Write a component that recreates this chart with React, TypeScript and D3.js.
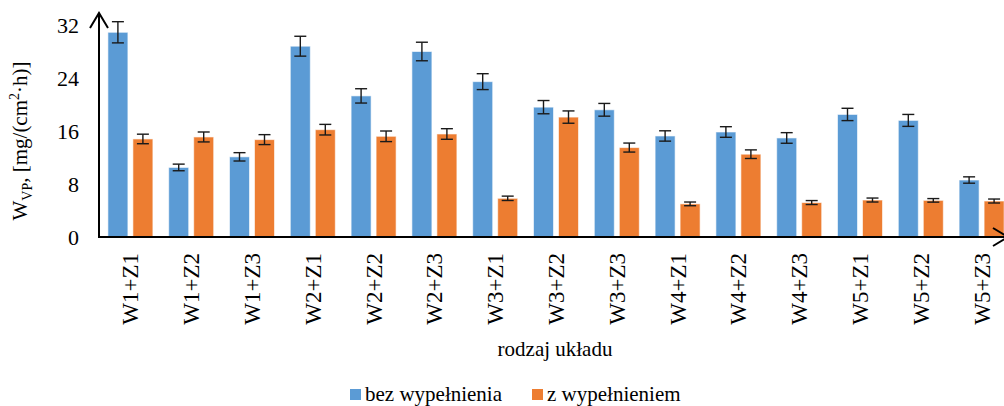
import React, { useEffect, useRef } from 'react';
import * as d3 from 'd3';

const categories = [
  'W1+Z1', 'W1+Z2', 'W1+Z3', 'W2+Z1', 'W2+Z2', 'W2+Z3', 'W3+Z1', 'W3+Z2',
  'W3+Z3', 'W4+Z1', 'W4+Z2', 'W4+Z3', 'W5+Z1', 'W5+Z2', 'W5+Z3',
];
const seriesNames = ['bez wypełnienia', 'z wypełnieniem'];
const bezValues = [30.9, 10.5, 12.1, 28.8, 21.3, 28.0, 23.45, 19.6, 19.2, 15.25, 15.85, 14.95, 18.5, 17.6, 8.6];
const bezErrors = [1.6, 0.5, 0.63, 1.5, 1.08, 1.4, 1.2, 1.0, 0.96, 0.78, 0.8, 0.8, 0.93, 0.9, 0.48];
const zValues = [14.8, 15.1, 14.7, 16.2, 15.2, 15.55, 5.84, 18.1, 13.5, 5.0, 12.5, 5.2, 5.58, 5.53, 5.43];
const zErrors = [0.72, 0.75, 0.75, 0.8, 0.8, 0.8, 0.33, 0.93, 0.68, 0.28, 0.65, 0.3, 0.3, 0.27, 0.3];
const yTicks = [0, 8, 16, 24, 32];
const colors = ['#5B9BD5', '#ED7D31'];

const FONT = 'Liberation Serif';

const App: React.FC = () => {
  const ref = useRef<SVGSVGElement | null>(null);

  useEffect(() => {
    if (!ref.current) return;
    const svg = d3.select(ref.current);
    svg.selectAll('*').remove();

    const left = 100;
    const step = 60.8;
    const x0 = d3.scaleBand<string>()
      .domain(categories)
      .range([left, left + step * categories.length])
      .padding(0);
    const bw = x0.bandwidth();
    const x1 = d3.scaleBand<string>()
      .domain(seriesNames)
      .range([bw * 0.13, bw * 0.87])
      .paddingInner(0.2);

    const y = d3.scaleLinear().domain([0, 32]).range([237, 25]);

    const rows = categories.map((c, i) => ({
      cat: c,
      vals: [
        { s: seriesNames[0], v: bezValues[i], e: bezErrors[i], color: colors[0] },
        { s: seriesNames[1], v: zValues[i], e: zErrors[i], color: colors[1] },
      ],
    }));

    const groups = svg.append('g')
      .selectAll('g')
      .data(rows)
      .enter()
      .append('g')
      .attr('transform', d => `translate(${x0(d.cat)},0)`);

    groups.selectAll('rect')
      .data(d => d.vals)
      .enter()
      .append('rect')
      .attr('x', d => x1(d.s)!)
      .attr('y', d => y(d.v))
      .attr('width', x1.bandwidth())
      .attr('height', d => y(0) - y(d.v))
      .attr('fill', d => d.color)
      .attr('stroke', 'rgba(255,255,255,0.6)')
      .attr('stroke-width', 1);

    // error bars
    const eb = groups.selectAll('g.err')
      .data(d => d.vals)
      .enter()
      .append('g')
      .attr('class', 'err')
      .attr('stroke', '#1a1a1a')
      .attr('stroke-width', 1.4);
    const cx = (d: { s: string }) => x1(d.s)! + x1.bandwidth() / 2;
    eb.append('line')
      .attr('x1', cx).attr('x2', cx)
      .attr('y1', d => y(d.v + d.e)).attr('y2', d => y(d.v - d.e));
    eb.append('line')
      .attr('x1', d => cx(d) - 6).attr('x2', d => cx(d) + 6)
      .attr('y1', d => y(d.v + d.e)).attr('y2', d => y(d.v + d.e));
    eb.append('line')
      .attr('x1', d => cx(d) - 6).attr('x2', d => cx(d) + 6)
      .attr('y1', d => y(d.v - d.e)).attr('y2', d => y(d.v - d.e));

    // axes
    const axisX = left - 1;
    svg.append('line')
      .attr('x1', axisX).attr('x2', axisX)
      .attr('y1', 13).attr('y2', y(0) + 1)
      .attr('stroke', '#000').attr('stroke-width', 2);
    svg.append('path')
      .attr('d', `M${axisX - 9},28 L${axisX},13 L${axisX + 9},28`)
      .attr('fill', 'none').attr('stroke', '#000').attr('stroke-width', 2);
    svg.append('line')
      .attr('x1', axisX).attr('x2', 1008)
      .attr('y1', y(0)).attr('y2', y(0))
      .attr('stroke', '#000').attr('stroke-width', 2);
    svg.append('path')
      .attr('d', `M993,${y(0) - 9} L1008,${y(0)} L993,${y(0) + 9}`)
      .attr('fill', 'none').attr('stroke', '#000').attr('stroke-width', 2);

    // y tick labels
    svg.append('g')
      .selectAll('text')
      .data(yTicks)
      .enter()
      .append('text')
      .attr('x', 79)
      .attr('y', d => y(d))
      .attr('dy', '0.35em')
      .attr('text-anchor', 'end')
      .attr('font-family', FONT)
      .attr('font-size', 22)
      .text(d => d);

    // category labels
    svg.append('g')
      .selectAll('text')
      .data(categories)
      .enter()
      .append('text')
      .attr('transform', d => `translate(${x0(d)! + bw / 2 + 8},253) rotate(-90)`)
      .attr('text-anchor', 'end')
      .attr('font-family', FONT)
      .attr('font-size', 23)
      .text(d => d);

    // y title
    const yt = svg.append('text')
      .attr('transform', 'translate(27,141) rotate(-90)')
      .attr('text-anchor', 'middle')
      .attr('font-family', FONT)
      .attr('font-size', 21);
    yt.append('tspan').text('W');
    yt.append('tspan').attr('dy', 5).attr('font-size', 14).text('VP');
    yt.append('tspan').attr('dy', -5).text(', [mg/(cm');
    yt.append('tspan').attr('dy', -8).attr('font-size', 14).text('2');
    yt.append('tspan').attr('dy', 8).text('·h)]');

    // x title
    svg.append('text')
      .attr('x', 555).attr('y', 356)
      .attr('text-anchor', 'middle')
      .attr('font-family', FONT)
      .attr('font-size', 21)
      .text('rodzaj układu');

    // legend
    const legendX = [350, 532];
    const lg = svg.append('g')
      .selectAll('g')
      .data(seriesNames)
      .enter()
      .append('g')
      .attr('transform', (_, i) => `translate(${legendX[i]},389)`);
    lg.append('rect')
      .attr('width', 11).attr('height', 11)
      .attr('fill', (_, i) => colors[i]);
    lg.append('text')
      .attr('x', 15).attr('y', 12)
      .attr('font-family', FONT)
      .attr('font-size', 21)
      .text(d => d);
  }, []);

  return (
    <svg
      ref={ref}
      width={1004}
      height={406}
      style={{ position: 'absolute', left: 0, top: 0, background: '#fff' }}
    />
  );
};

export default App;
